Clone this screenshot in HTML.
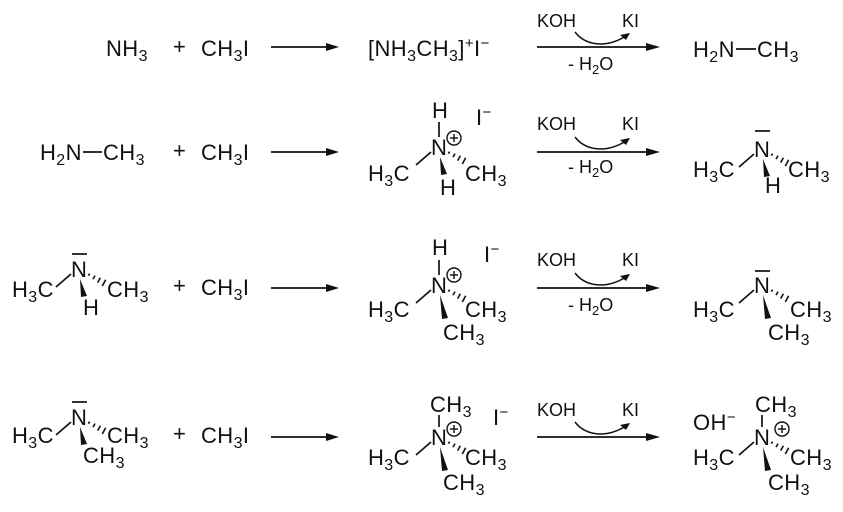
<!DOCTYPE html>
<html><head><meta charset="utf-8"><style>
html,body{margin:0;padding:0;background:#fff}
svg{display:block}
text{font-family:"Liberation Sans",Arial,sans-serif;font-size:22px;fill:#111;letter-spacing:0.4px}
.r{font-size:18px;letter-spacing:0}
</style></head><body>
<svg width="843" height="512" viewBox="0 0 843 512" xmlns="http://www.w3.org/2000/svg">
<defs>
<g id="lb"><line x1="-16" y1="10" x2="-1" y2="-3" stroke="#111" stroke-width="1.7"/></g>
<g id="hs" stroke="#111" stroke-width="1.6">
<line x1="16.4" y1="-1.3" x2="17.6" y2="-3.4"/><line x1="21" y1="2.15" x2="23" y2="-1.35"/>
<line x1="25.65" y1="5.6" x2="28.35" y2="0.7"/><line x1="30.3" y1="9.05" x2="33.7" y2="2.75"/></g>
<polygon id="ws" points="8,2 9,20 15,19" fill="#111"/>
<polygon id="wl" points="8,2 10,26 16,25" fill="#111"/>
<g id="pl"><circle cx="0" cy="0" r="7" fill="none" stroke="#111" stroke-width="1.4"/><line x1="-4" y1="0" x2="4" y2="0" stroke="#111" stroke-width="1.4"/><line x1="0" y1="-4" x2="0" y2="4" stroke="#111" stroke-width="1.4"/></g>
<g id="la"><line x1="271" y1="0" x2="328" y2="0" stroke="#111" stroke-width="1.7"/><polygon points="326,-4 339,0 326,4" fill="#111"/></g>
<g id="ma"><line x1="537" y1="0" x2="648" y2="0" stroke="#111" stroke-width="1.7"/><polygon points="646,-4 660,0 646,4" fill="#111"/>
<path d="M575,-15 C585,-2 605,2 626,-11" fill="none" stroke="#111" stroke-width="1.5"/><polygon points="630,-14 620,-12 626,-7" fill="#111"/></g>
</defs>

<!-- Row 1 -->
<text x="106" y="56">NH<tspan font-size="16" dy="5">3</tspan></text>
<text x="173" y="54" font-size="17">+</text>
<text x="201" y="56">CH<tspan font-size="16" dy="5">3</tspan><tspan dy="-5">I</tspan></text>
<use href="#la" y="47"/>
<text x="368" y="56">[NH<tspan font-size="16" dy="5">3</tspan><tspan dy="-5">CH</tspan><tspan font-size="16" dy="5">3</tspan><tspan dy="-5">]</tspan><tspan font-size="15" dy="-8">+</tspan><tspan dy="8">I</tspan><tspan font-size="15" dy="-8">−</tspan></text>
<use href="#ma" y="47"/>
<text class="r" x="537" y="27">KOH</text><text class="r" x="622" y="27">KI</text>
<text class="r" x="568" y="70">- H<tspan font-size="13" dy="4">2</tspan><tspan dy="-4">O</tspan></text>
<text x="693" y="57">H<tspan font-size="16" dy="5">2</tspan><tspan dy="-5">N</tspan></text>
<line x1="736" y1="49" x2="756" y2="49" stroke="#111" stroke-width="1.7"/>
<text x="757" y="57">CH<tspan font-size="16" dy="5">3</tspan></text>

<!-- Row 2 -->
<text x="40" y="160">H<tspan font-size="16" dy="5">2</tspan><tspan dy="-5">N</tspan></text>
<line x1="83" y1="152" x2="102" y2="152" stroke="#111" stroke-width="1.7"/>
<text x="103" y="160">CH<tspan font-size="16" dy="5">3</tspan></text>
<text x="173" y="158" font-size="17">+</text>
<text x="201" y="160">CH<tspan font-size="16" dy="5">3</tspan><tspan dy="-5">I</tspan></text>
<use href="#la" y="152"/>
<g transform="translate(432,155)"><use href="#lb"/><use href="#hs"/><use href="#ws"/>
<line x1="7" y1="-33" x2="7" y2="-18" stroke="#111" stroke-width="1.7"/><use href="#pl" x="22" y="-17"/></g>
<text x="432" y="118">H</text><text x="431" y="155">N</text>
<text x="368" y="181">H<tspan font-size="16" dy="5">3</tspan><tspan dy="-5">C</tspan></text>
<text x="465" y="181">CH<tspan font-size="16" dy="5">3</tspan></text>
<text x="440" y="195">H</text>
<text x="476" y="125">I<tspan font-size="15" dy="-8">−</tspan></text>
<use href="#ma" y="152"/>
<text class="r" x="537" y="130">KOH</text><text class="r" x="622" y="130">KI</text>
<text class="r" x="568" y="173">- H<tspan font-size="13" dy="4">2</tspan><tspan dy="-4">O</tspan></text>
<g transform="translate(755,157)"><use href="#lb"/><use href="#hs"/><use href="#ws"/>
<line x1="0" y1="-26" x2="15" y2="-26" stroke="#111" stroke-width="1.7"/></g>
<text x="754" y="157">N</text>
<text x="693" y="177">H<tspan font-size="16" dy="5">3</tspan><tspan dy="-5">C</tspan></text>
<text x="788" y="177">CH<tspan font-size="16" dy="5">3</tspan></text>
<text x="765" y="193">H</text>

<!-- Row 3 -->
<g transform="translate(72,277)"><use href="#lb"/><use href="#hs"/><use href="#ws"/>
<line x1="0" y1="-23" x2="15" y2="-23" stroke="#111" stroke-width="1.7"/></g>
<text x="71" y="277">N</text>
<text x="12" y="297">H<tspan font-size="16" dy="5">3</tspan><tspan dy="-5">C</tspan></text>
<text x="107" y="297">CH<tspan font-size="16" dy="5">3</tspan></text>
<text x="83" y="315">H</text>
<text x="173" y="293" font-size="17">+</text>
<text x="201" y="295">CH<tspan font-size="16" dy="5">3</tspan><tspan dy="-5">I</tspan></text>
<use href="#la" y="288"/>
<g transform="translate(432,293)"><use href="#lb"/><use href="#hs"/><use href="#wl"/>
<line x1="7" y1="-33" x2="7" y2="-18" stroke="#111" stroke-width="1.7"/><use href="#pl" x="22" y="-18"/></g>
<text x="432" y="255">H</text><text x="431" y="293">N</text>
<text x="368" y="317">H<tspan font-size="16" dy="5">3</tspan><tspan dy="-5">C</tspan></text>
<text x="465" y="317">CH<tspan font-size="16" dy="5">3</tspan></text>
<text x="443" y="340">CH<tspan font-size="16" dy="5">3</tspan></text>
<text x="484" y="262">I<tspan font-size="15" dy="-8">−</tspan></text>
<use href="#ma" y="288"/>
<text class="r" x="537" y="266">KOH</text><text class="r" x="622" y="266">KI</text>
<text class="r" x="568" y="311">- H<tspan font-size="13" dy="4">2</tspan><tspan dy="-4">O</tspan></text>
<g transform="translate(755,293)"><use href="#lb"/><use href="#hs"/><use href="#wl"/>
<line x1="0" y1="-22" x2="15" y2="-22" stroke="#111" stroke-width="1.7"/></g>
<text x="754" y="293">N</text>
<text x="693" y="317">H<tspan font-size="16" dy="5">3</tspan><tspan dy="-5">C</tspan></text>
<text x="790" y="317">CH<tspan font-size="16" dy="5">3</tspan></text>
<text x="768" y="340">CH<tspan font-size="16" dy="5">3</tspan></text>

<!-- Row 4 -->
<g transform="translate(72,425)"><use href="#lb"/><use href="#hs"/><use href="#ws"/>
<line x1="0" y1="-23" x2="15" y2="-23" stroke="#111" stroke-width="1.7"/></g>
<text x="71" y="425">N</text>
<text x="12" y="443">H<tspan font-size="16" dy="5">3</tspan><tspan dy="-5">C</tspan></text>
<text x="107" y="443">CH<tspan font-size="16" dy="5">3</tspan></text>
<text x="83" y="463">CH<tspan font-size="16" dy="5">3</tspan></text>
<text x="173" y="441" font-size="17">+</text>
<text x="201" y="443">CH<tspan font-size="16" dy="5">3</tspan><tspan dy="-5">I</tspan></text>
<use href="#la" y="437"/>
<g transform="translate(432,445)"><use href="#lb"/><use href="#hs"/><use href="#wl"/>
<line x1="7" y1="-30" x2="7" y2="-18" stroke="#111" stroke-width="1.7"/><use href="#pl" x="22" y="-16"/></g>
<text x="430" y="412">CH<tspan font-size="16" dy="5">3</tspan></text><text x="431" y="445">N</text>
<text x="368" y="465">H<tspan font-size="16" dy="5">3</tspan><tspan dy="-5">C</tspan></text>
<text x="465" y="465">CH<tspan font-size="16" dy="5">3</tspan></text>
<text x="443" y="490">CH<tspan font-size="16" dy="5">3</tspan></text>
<text x="493" y="425">I<tspan font-size="15" dy="-8">−</tspan></text>
<use href="#ma" y="437"/>
<text class="r" x="537" y="416">KOH</text><text class="r" x="622" y="416">KI</text>
<g transform="translate(755,445)"><use href="#lb"/><use href="#hs"/><use href="#wl"/>
<line x1="7" y1="-30" x2="7" y2="-18" stroke="#111" stroke-width="1.7"/><use href="#pl" x="27" y="-16"/></g>
<text x="755" y="412">CH<tspan font-size="16" dy="5">3</tspan></text><text x="754" y="445">N</text>
<text x="693" y="430">OH<tspan font-size="15" dy="-8">−</tspan></text>
<text x="693" y="465">H<tspan font-size="16" dy="5">3</tspan><tspan dy="-5">C</tspan></text>
<text x="790" y="465">CH<tspan font-size="16" dy="5">3</tspan></text>
<text x="768" y="490">CH<tspan font-size="16" dy="5">3</tspan></text>
</svg>
</body></html>
